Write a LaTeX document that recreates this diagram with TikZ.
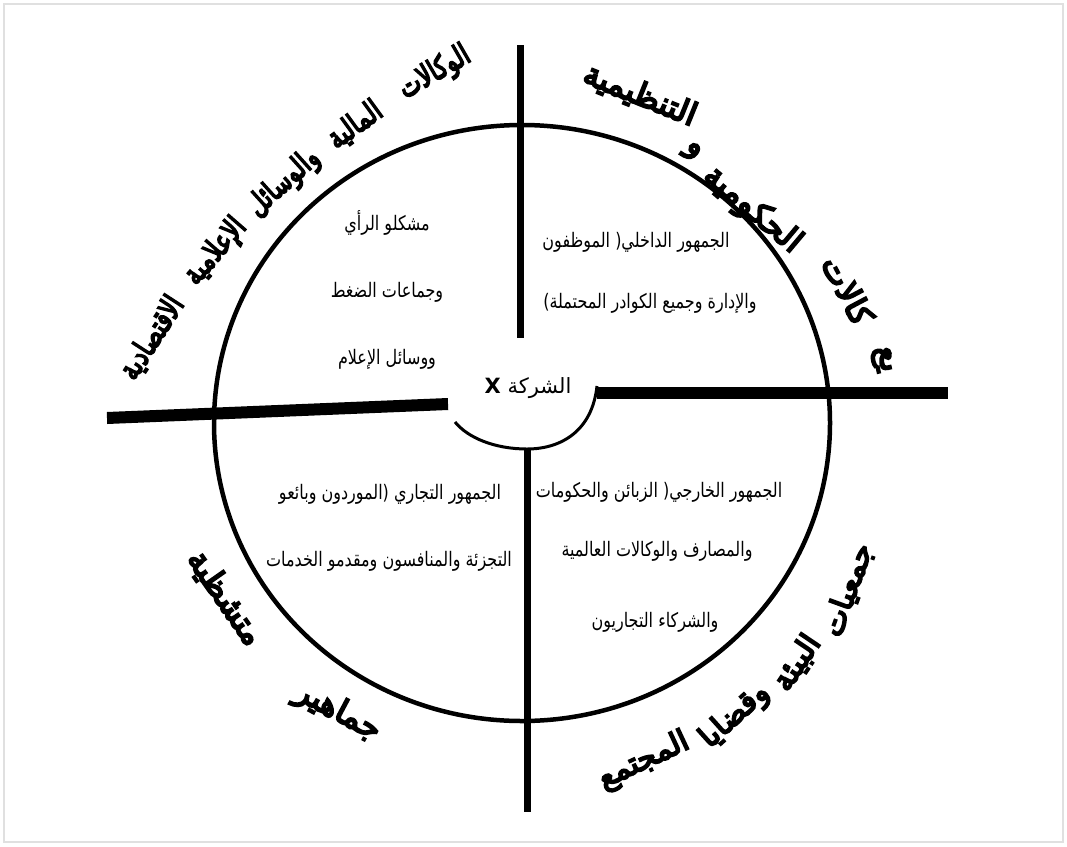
\documentclass[tikz,border=0pt]{standalone}
\usepackage{fontspec}
\newfontfamily\arabicfont[Script=Arabic]{DejaVu Sans}
\newfontfamily\arabicheavy[Script=Arabic,FakeBold=6]{DejaVu Sans}
\TeXXeTstate=1
\newcommand{\narrowtext}[1]{\scalebox{0.8}[1]{\beginR #1\endR}}
\newcommand{\slimword}[1]{\scalebox{0.76}[1]{#1}}
\tikzset{
  innertext/.style={font=\arabicfont\fontsize{20}{24}\selectfont, inner sep=0pt, anchor=base},
  outertext/.style={font=\arabicheavy\fontsize{30}{36}\selectfont, inner sep=0pt},
  bigoutertext/.style={font=\arabicheavy\fontsize{32}{38}\selectfont, inner sep=0pt},
  bar/.style={line width=12pt},
  axis/.style={line width=7pt},
  ring/.style={line width=4.5pt},
  hub/.style={line width=3pt},
  frame/.style={draw=black!12, line width=1.5pt}
}
\begin{document}
\begin{tikzpicture}[x=1pt,y=-1pt]
\useasboundingbox (0,0) rectangle (1067,846);
\draw[frame] (4,4) rectangle (1063,842);
% main ring
\coordinate (C) at (522,423);
\draw[ring] (C) ellipse [x radius=308pt, y radius=298pt];
% axes
\coordinate (t1) at (520,45);  \coordinate (t2) at (520,338);
\coordinate (b1) at (527,448); \coordinate (b2) at (527,812);
\coordinate (l1) at (107,418); \coordinate (l2) at (448,404);
\coordinate (r1) at (597,393); \coordinate (r2) at (948,393);
\draw[axis] (t1) -- (t2);
\draw[axis] (b1) -- (b2);
\draw[bar] (l1) -- (l2);
\draw[bar] (r1) -- (r2);
% hub arc
\coordinate (h1) at (455,422);
\coordinate (h2) at (597,386);
\draw[hub] (h2) .. controls (592,432) and (560,449) .. (527,449)
               .. controls (495,449) and (468,438) .. (h1);
\node[font=\arabicfont\fontsize{21}{25}\selectfont, inner sep=0pt] (hub) at (528,388) {\beginR الشركة \textbf{X}\endR};
% inner texts
\node[innertext] (tl1) at (387,230) {\narrowtext{مشكلو الرأي}};
\node[innertext] (tl2) at (387,297) {\narrowtext{وجماعات الضغط}};
\node[innertext] (tl3) at (387,364) {\narrowtext{ووسائل الإعلام}};
\node[innertext] (tr1) at (636,247) {\narrowtext{الجمهور الداخلي( الموظفون}};
\node[innertext] (tr2) at (650,308) {\narrowtext{والإدارة وجميع الكوادر المحتملة)}};
\node[innertext] (bl1) at (390,499) {\narrowtext{الجمهور التجاري (الموردون وبائعو}};
\node[innertext] (bl2) at (389,566) {\narrowtext{التجزئة والمنافسون ومقدمو الخدمات}};
\node[innertext] (br1) at (659,497) {\narrowtext{الجمهور الخارجي( الزبائن والحكومات}};
\node[innertext] (br2) at (657,556) {\narrowtext{والمصارف والوكالات العالمية}};
\node[innertext] (br3) at (655,627) {\narrowtext{والشركاء التجاريون}};
% outer labels: top-left
\node[outertext, rotate=30] (oa1) at (435,73) {\slimword{الوكالات}};
\node[outertext, rotate=36] (oa2) at (355,125) {\slimword{المالية}};
\node[outertext, rotate=42] (oa3) at (284,183) {\slimword{والوسائل}};
\node[outertext, rotate=49] (oa4) at (216,252) {\slimword{الإعلامية}};
\node[outertext, rotate=57] (oa5) at (152,338) {\slimword{الاقتصادية}};
% top-right
\node[bigoutertext, rotate=-78] (ob1) at (882,360) {يع};
\node[bigoutertext, rotate=-62] (ob2) at (848,290) {كالات};
\node[bigoutertext, rotate=-40] (ob3) at (752,210) {الحكومية};
\node[bigoutertext, rotate=-35] (ob4) at (692,152) {و};
\node[bigoutertext, rotate=-22] (ob5) at (640,95) {التنظيمية};
% bottom-right
\node[outertext, rotate=70] (oc1) at (848,590) {جمعيات};
\node[outertext, rotate=56] (oc2) at (797,663) {البيئة};
\node[outertext, rotate=42] (oc3) at (735,716) {وقضايا};
\node[outertext, rotate=25] (oc4) at (644,761) {المجتمع};
% bottom-left
\node[bigoutertext, rotate=-28] (od1) at (338,712) {جماهير};
\node[bigoutertext, rotate=-55] (od2) at (225,598) {متشظية};
\end{tikzpicture}
\end{document}
